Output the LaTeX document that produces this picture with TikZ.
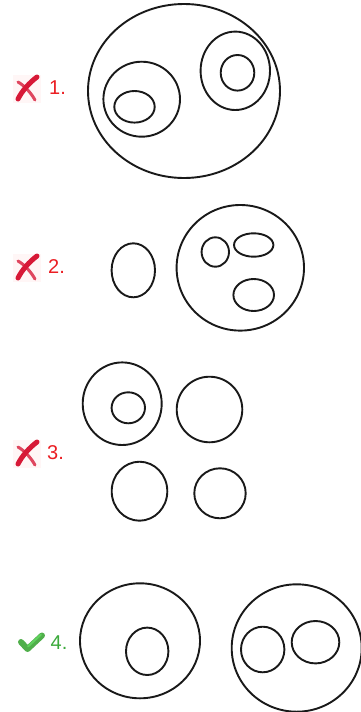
\documentclass[tikz,border=0pt]{standalone}
\usepackage{fontspec}
\setmainfont{Liberation Sans}
\begin{document}
\begin{tikzpicture}[x=1pt,y=-1pt,
  ring/.style={draw=black!90,line width=1.9pt},
  wrong/.style={font=\fontsize{20}{20}\selectfont,anchor=base west,inner sep=0pt},
  right/.style={font=\fontsize{20}{20}\selectfont,anchor=base west,inner sep=0pt}]
\definecolor{xred}{RGB}{215,25,55}
\definecolor{okgreen}{RGB}{80,175,75}
\definecolor{lblred}{RGB}{235,30,35}
\definecolor{lblgreen}{RGB}{60,170,60}
\useasboundingbox (0,0) rectangle (361,712);
\fill[white] (0,0) rectangle (361,712);
% ---------- 1 ----------
\draw[ring] (184,91) ellipse [x radius=96, y radius=87];
\draw[ring] (141.7,99.2) ellipse [x radius=38.3, y radius=37.5];
\draw[ring] (134.5,106.8) ellipse [x radius=20.2, y radius=15.8];
\draw[ring] (235.3,70.8) ellipse [x radius=34.7, y radius=39.2];
\draw[ring] (237.5,72.8) ellipse [x radius=16.8, y radius=17.8];
% ---------- 2 ----------
\draw[ring] (133.3,270.3) ellipse [x radius=21.7, y radius=27];
\draw[ring] (240.3,267.8) ellipse [x radius=63.7, y radius=62.8];
\draw[ring] (215.3,252) ellipse [x radius=13.7, y radius=14.7];
\draw[ring] (253.7,245) ellipse [x radius=19.7, y radius=11.7];
\draw[ring] (253.7,295) ellipse [x radius=20.3, y radius=16];
% ---------- 3 ----------
\draw[ring] (122.2,403.7) ellipse [x radius=39.5, y radius=41.3];
\draw[ring] (128.3,407.8) ellipse [x radius=16.7, y radius=15.5];
\draw[ring] (209.5,409.5) ellipse [x radius=32.8, y radius=32.8];
\draw[ring] (139.5,491.2) ellipse [x radius=27.8, y radius=29.5];
\draw[ring] (220,493.3) ellipse [x radius=25.7, y radius=25];
% ---------- 4 ----------
\draw[ring] (140,640.8) ellipse [x radius=60, y radius=57.5];
\draw[ring] (147.2,651.3) ellipse [x radius=21.2, y radius=23.7];
\draw[ring] (296.7,648) ellipse [x radius=65, y radius=63.7];
\draw[ring] (262.7,649.5) ellipse [x radius=21.7, y radius=22.8];
\draw[ring] (315.5,642.2) ellipse [x radius=23.8, y radius=21.2];
% ---------- labels ----------
\node[wrong,text=lblred] (l1) at (49,94.5) {1.};
\node[wrong,text=lblred] (l2) at (48,273.5) {2.};
\node[wrong,text=lblred] (l3) at (47,459.5) {3.};
\node[right,text=lblgreen] (l4) at (50.5,649.5) {4.};
% ---------- marks ----------
\foreach \y in {0,179,365}{
  \begin{scope}[yshift=-\y pt]
    \fill[pink!15] (13,75) rectangle (41,103);
    \draw[xred!80,line width=3pt,line cap=round] (18,82) .. controls (25,86) and (31,93) .. (35,100);
    \draw[xred,line width=5pt,line cap=round] (37,77) .. controls (29,83) and (22,91) .. (18,99);
  \end{scope}
}
\draw[okgreen,line width=6pt,line cap=round,line join=round] (21,642) -- (27.5,649) -- (42,635.5);
\draw[green!30!okgreen!80!white,line width=2pt,line cap=round] (28,646.5) -- (41,634.5);
\end{tikzpicture}
\end{document}
